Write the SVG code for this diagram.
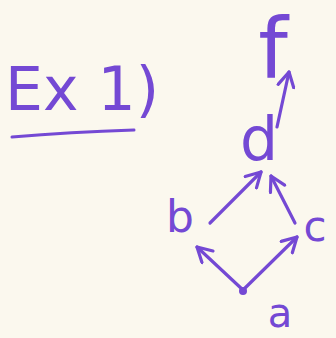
<svg xmlns="http://www.w3.org/2000/svg" width="336" height="338" viewBox="0 0 336 338">
<defs>
<style>
.ink{fill:#7449d4;font-family:"DejaVu Sans","Liberation Sans",sans-serif;}
.edge{stroke:#7449d4;stroke-width:3.2;fill:none;stroke-linecap:round;}
</style>
<marker id="arr" viewBox="0 0 12 12" refX="10" refY="6" markerWidth="6" markerHeight="6" orient="auto" markerUnits="strokeWidth">
<path d="M1,1 L10,6 L1,11" fill="none" stroke="#7449d4" stroke-width="2" stroke-linecap="round" stroke-linejoin="round"/>
</marker>
</defs>
<rect width="336" height="338" fill="#fbf8ee"/>
<g id="title">
<text class="ink" x="5" y="110" font-size="60" font-family="Liberation Sans,sans-serif">Ex 1)</text>
<path d="M12,137 Q70,132 134,130" stroke="#7449d4" stroke-width="3" fill="none" stroke-linecap="round"/>
</g>
<g id="connectors">
<line class="edge" x1="243" y1="290" x2="197" y2="247" marker-end="url(#arr)"/>
<line class="edge" x1="243" y1="290" x2="297" y2="237" marker-end="url(#arr)"/>
<line class="edge" x1="210" y1="223" x2="261" y2="172" marker-end="url(#arr)"/>
<line class="edge" x1="295" y1="223" x2="271" y2="176" marker-end="url(#arr)"/>
<line class="edge" x1="277" y1="127" x2="289" y2="72" marker-end="url(#arr)"/>
</g>
<g id="node-a">
<circle cx="243" cy="291" r="4" fill="#7449d4"/>
<text class="ink" x="280" y="327" font-size="40" text-anchor="middle">a</text>
</g>
<g id="node-b">
<text class="ink" x="180" y="232" font-size="44" text-anchor="middle">b</text>
</g>
<g id="node-c">
<text class="ink" x="315" y="241" font-size="42" text-anchor="middle">c</text>
</g>
<g id="node-d">
<text class="ink" x="259" y="160" font-size="60" text-anchor="middle">d</text>
</g>
<g id="node-f">
<text class="ink" x="273" y="78" font-size="84" text-anchor="middle">f</text>
</g>
</svg>
